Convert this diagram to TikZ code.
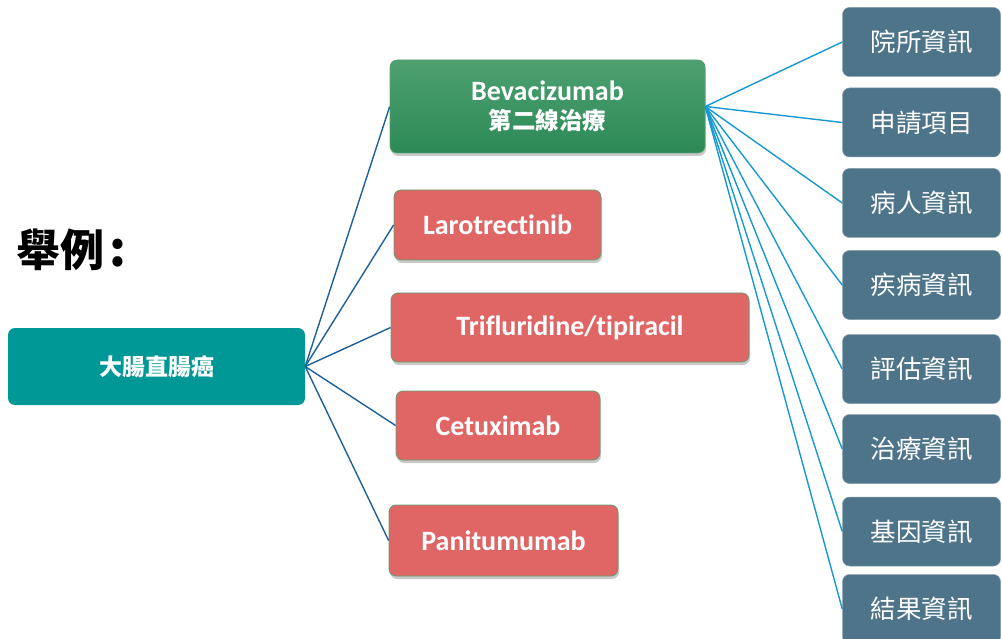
\documentclass[tikz,border=0pt]{standalone}
\usepackage{fontspec}
\setmainfont{Carlito}[Ligatures=NoCommon]
\newfontfamily\cjk{Noto Sans CJK TC}
\usetikzlibrary{shadows}
\definecolor{rootteal}{RGB}{0,152,150}
\definecolor{greentop}{RGB}{78,160,112}
\definecolor{greenbot}{RGB}{44,138,86}
\definecolor{drugred}{RGB}{224,102,102}
\definecolor{redrim}{RGB}{96,160,112}
\definecolor{slate}{RGB}{78,116,137}
\definecolor{linkdark}{RGB}{30,96,152}
\definecolor{linklight}{RGB}{22,152,210}
\tikzset{
  box/.style={rectangle, rounded corners=7pt, inner sep=0pt, text=white, align=center},
  softshadow/.style={drop shadow={shadow xshift=1pt, shadow yshift=-3pt, opacity=0.3, fill=black!70}},
  rootbox/.style={box, fill=rootteal, font=\cjk\bfseries\fontsize{23}{27}\selectfont},
  secondline/.style={box, softshadow, top color=greentop, bottom color=greenbot, draw=greenbot!80!white, line width=0.6pt, font=\bfseries\fontsize{28}{29}\selectfont},
  drugbox/.style={box, softshadow, fill=drugred, draw=redrim, line width=0.8pt, font=\bfseries\fontsize{28}{30}\selectfont},
  fieldbox/.style={box, fill=slate, draw=slate!70!white, line width=0.5pt, minimum width=158pt, minimum height=69pt, font=\cjk\fontsize{25.5}{28}\selectfont},
  rootlink/.style={draw=linkdark, line width=1.4pt},
  fieldlink/.style={draw=linklight, line width=1.4pt}
}
\begin{document}
\begin{tikzpicture}[x=1pt,y=-1pt]
\useasboundingbox (0,0) rectangle (1002,639);
\clip (0,0) rectangle (1002,639);

% heading
\node[anchor=west, inner sep=0pt, font=\cjk\bfseries\fontsize{44}{48}\selectfont] (title) at (16,250) {舉例\kern5pt{\fontsize{48}{48}\selectfont:}};

% root
\node[rootbox, minimum width=297pt, minimum height=77pt] (root) at (156.5,366.5) {大腸直腸癌};

% second column
\node[secondline, minimum width=315pt, minimum height=93pt] (beva) at (547.5,106.5)
  {Bevacizumab\\{\cjk\bfseries\fontsize{23.5}{29}\selectfont 第二線治療}};
\node[drugbox, minimum width=207pt, minimum height=70pt] (laro) at (497.5,225) {Larotrectinib};
\node[drugbox, minimum width=358pt, minimum height=69pt] (trif) at (570,327.5) {Trifluridine/tipiracil};
\node[drugbox, minimum width=204pt, minimum height=69pt] (cetu) at (498,425.5) {Cetuximab};
\node[drugbox, minimum width=229pt, minimum height=71pt] (pani) at (503.5,540.5) {Panitumumab};

% third column
\node[fieldbox] (f1) at (921.5,42) {院所資訊};
\node[fieldbox] (f2) at (921.5,122.5) {申請項目};
\node[fieldbox] (f3) at (921.5,203) {病人資訊};
\node[fieldbox] (f4) at (921.5,285) {疾病資訊};
\node[fieldbox] (f5) at (921.5,369) {評估資訊};
\node[fieldbox] (f6) at (921.5,449) {治療資訊};
\node[fieldbox] (f7) at (921.5,531.5) {基因資訊};
\node[fieldbox] (f8) at (921.5,609) {結果資訊};

% connectors from the root
\foreach \n in {beva,laro,trif,cetu,pani}
  \draw[rootlink] (root.east) -- (\n.west);

% connectors from the second-line node
\foreach \n in {f1,f2,f3,f4,f5,f6,f7,f8}
  \draw[fieldlink] (beva.east) -- (\n.west);
\end{tikzpicture}
\end{document}
